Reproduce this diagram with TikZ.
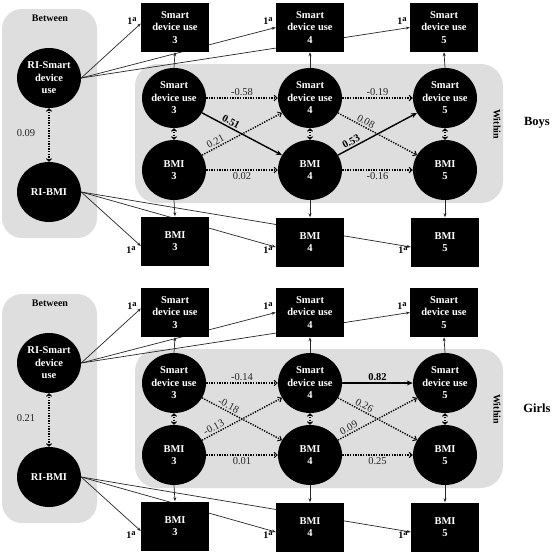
\documentclass[tikz,border=0pt]{standalone}
\usepackage{fontspec}
\setmainfont{Liberation Serif}
\usetikzlibrary{arrows.meta,shapes.geometric}
\pgfdeclarelayer{back}
\pgfdeclarelayer{mid}
\pgfsetlayers{back,mid,main}
\definecolor{panelgray}{HTML}{DEDEDE}
\newcommand\onea{1\raisebox{3.5pt}{\fontsize{8.5}{9}\selectfont a}}
\tikzset{
  lat/.style={ellipse, fill=black, text=white, minimum width=64pt, minimum height=60pt, inner sep=0pt,
    align=center, font=\fontsize{10.5}{12.5}\selectfont\bfseries},
  obs/.style={rectangle, fill=black, text=white, minimum width=68pt, minimum height=49pt, inner sep=0pt,
    align=center, font=\fontsize{10.5}{12.5}\selectfont\bfseries},
  load/.style={draw=black!85, line width=0.7pt, -{Stealth[length=4pt,width=3pt]}},
  dotarr/.style={line width=1.4pt, dash pattern=on 1.3pt off 1.3pt, -{Straight Barb[length=3pt,width=5.5pt,line width=1pt]}},
  dotdbl/.style={line width=1.4pt, dash pattern=on 1.3pt off 1.3pt, {Straight Barb[length=2.5pt,width=5pt,line width=1pt]}-{Straight Barb[length=2.5pt,width=5pt,line width=1pt]}},
  sigarr/.style={line width=1.4pt, -{Stealth[length=6pt,width=5pt]}},
  numlab/.style={font=\fontsize{10.5}{12}\selectfont, text=black!85, inner sep=1.5pt},
  boldlab/.style={numlab, font=\fontsize{10.5}{12}\selectfont\bfseries, text=black},
  onelab/.style={font=\fontsize{10}{12}\selectfont\bfseries, inner sep=0pt},
  headlab/.style={font=\fontsize{10}{12}\selectfont\bfseries},
}
\newcommand\drawpanel[3]{%
\begin{scope}[shift={(0,#2)}]
  \begin{pgfonlayer}{back}
    \fill[panelgray, rounded corners=20pt] (2,9) rectangle (97,238);
    \fill[panelgray, rounded corners=22pt] (135,64) rectangle (503,203);
  \end{pgfonlayer}
  \node[headlab] (#1between) at (50,18) {Between};
  \node[headlab, rotate=-90] (#1within) at (497,124) {Within};
  \node[font=\fontsize{12.5}{14}\selectfont\bfseries] (#1name) at (537,123) {#3};
  % latent nodes
  \node[lat] (#1rs) at (49,78) {RI-Smart\\device\\use};
  \node[lat] (#1rb) at (49,192) {RI-BMI};
  \node[lat] (#1s3) at (174,98) {Smart\\device use\\3};
  \node[lat] (#1s4) at (310,98) {Smart\\device use\\4};
  \node[lat] (#1s5) at (445,98) {Smart\\device use\\5};
  \node[lat] (#1b3) at (174,170) {BMI\\3};
  \node[lat] (#1b4) at (310,170) {BMI\\4};
  \node[lat] (#1b5) at (445,170) {BMI\\5};
  % observed boxes
  \node[obs] (#1ts3) at (175,27.5) {Smart\\device use\\3};
  \node[obs] (#1ts4) at (310,27.5) {Smart\\device use\\4};
  \node[obs] (#1ts5) at (444,27.5) {Smart\\device use\\5};
  \node[obs] (#1bs3) at (175,241) {BMI\\3};
  \node[obs] (#1bs4) at (310,242) {BMI\\4};
  \node[obs] (#1bs5) at (445,242) {BMI\\5};
  % loadings
  \begin{pgfonlayer}{mid}
    \draw[load] (#1rs.east) -- ([yshift=4pt]#1ts3.west);
    \draw[load] (#1rs.east) -- (#1ts4.west);
    \draw[load] (#1rs.east) -- (#1ts5.west);
    \draw[load] (#1rb.east) -- ([yshift=-5pt]#1bs3.west);
    \draw[load] (#1rb.east) -- ([yshift=-5pt]#1bs4.west);
    \draw[load] (#1rb.east) -- ([yshift=-5pt]#1bs5.west);
    \draw[load] (#1s3.north) -- (#1ts3.south);
    \draw[load] (#1s4.north) -- (#1ts4.south);
    \draw[load] (#1s5.north) -- (#1ts5.south);
    \draw[load] (#1b3.south) -- (#1bs3.north);
    \draw[load] (#1b4.south) -- (#1bs4.north);
    \draw[load] (#1b5.south) -- (#1bs5.north);
  \end{pgfonlayer}
  \node[onelab] (#1l1) at (132,21) {\onea};
  \node[onelab] (#1l2) at (268,21) {\onea};
  \node[onelab] (#1l3) at (402,21) {\onea};
  \node[onelab] (#1l4) at (131,250) {\onea};
  \node[onelab] (#1l5) at (268,250) {\onea};
  \node[onelab] (#1l6) at (403,250) {\onea};
  % covariances
  \draw[dotdbl] (#1rs.south) -- (#1rb.north);
  \draw[dotdbl] (#1s3.south) -- (#1b3.north);
  \draw[dotdbl] (#1s4.south) -- (#1b4.north);
  \draw[dotdbl] (#1s5.south) -- (#1b5.north);
\end{scope}}
\begin{document}
\begin{tikzpicture}[x=1pt, y=-1pt]
\useasboundingbox (0,0) rectangle (553,555);
\drawpanel{b}{0}{Boys}
\drawpanel{g}{285}{Girls}
% Boys
\node[numlab] (bc) at (26,133) {0.09};
\draw[dotarr] (bs3) -- node[numlab, above] {-0.58} (bs4);
\draw[sigarr] (bs3) -- node[boldlab, pos=0.33, above, sloped] {0.51} (bb4);
\draw[dotarr] (bb3) -- node[numlab, pos=0.2, above, sloped] {0.21} (bs4);
\draw[dotarr] (bb3) -- node[numlab, below] {0.02} (bb4);
\draw[dotarr] (bs4) -- node[numlab, above] {-0.19} (bs5);
\draw[dotarr] (bs4) -- node[numlab, pos=0.32, above, sloped] {0.08} (bb5);
\draw[sigarr] (bb4) -- node[boldlab, pos=0.2, above, sloped] {0.53} (bs5);
\draw[dotarr] (bb4) -- node[numlab, below] {-0.16} (bb5);
% Girls
\node[numlab] (gc) at (26,418) {0.21};
\draw[dotarr] (gs3) -- node[numlab, above] {-0.14} (gs4);
\draw[dotarr] (gs3) -- node[numlab, pos=0.3, above, sloped] {-0.18} (gb4);
\draw[dotarr] (gb3) -- node[numlab, pos=0.18, above, sloped] {-0.13} (gs4);
\draw[dotarr] (gb3) -- node[numlab, below] {0.01} (gb4);
\draw[sigarr] (gs4) -- node[boldlab, above] {0.82} (gs5);
\draw[dotarr] (gs4) -- node[numlab, pos=0.3, above, sloped] {0.26} (gb5);
\draw[dotarr] (gb4) -- node[numlab, pos=0.17, above, sloped] {0.09} (gs5);
\draw[dotarr] (gb4) -- node[numlab, below] {0.25} (gb5);
\end{tikzpicture}
\end{document}
